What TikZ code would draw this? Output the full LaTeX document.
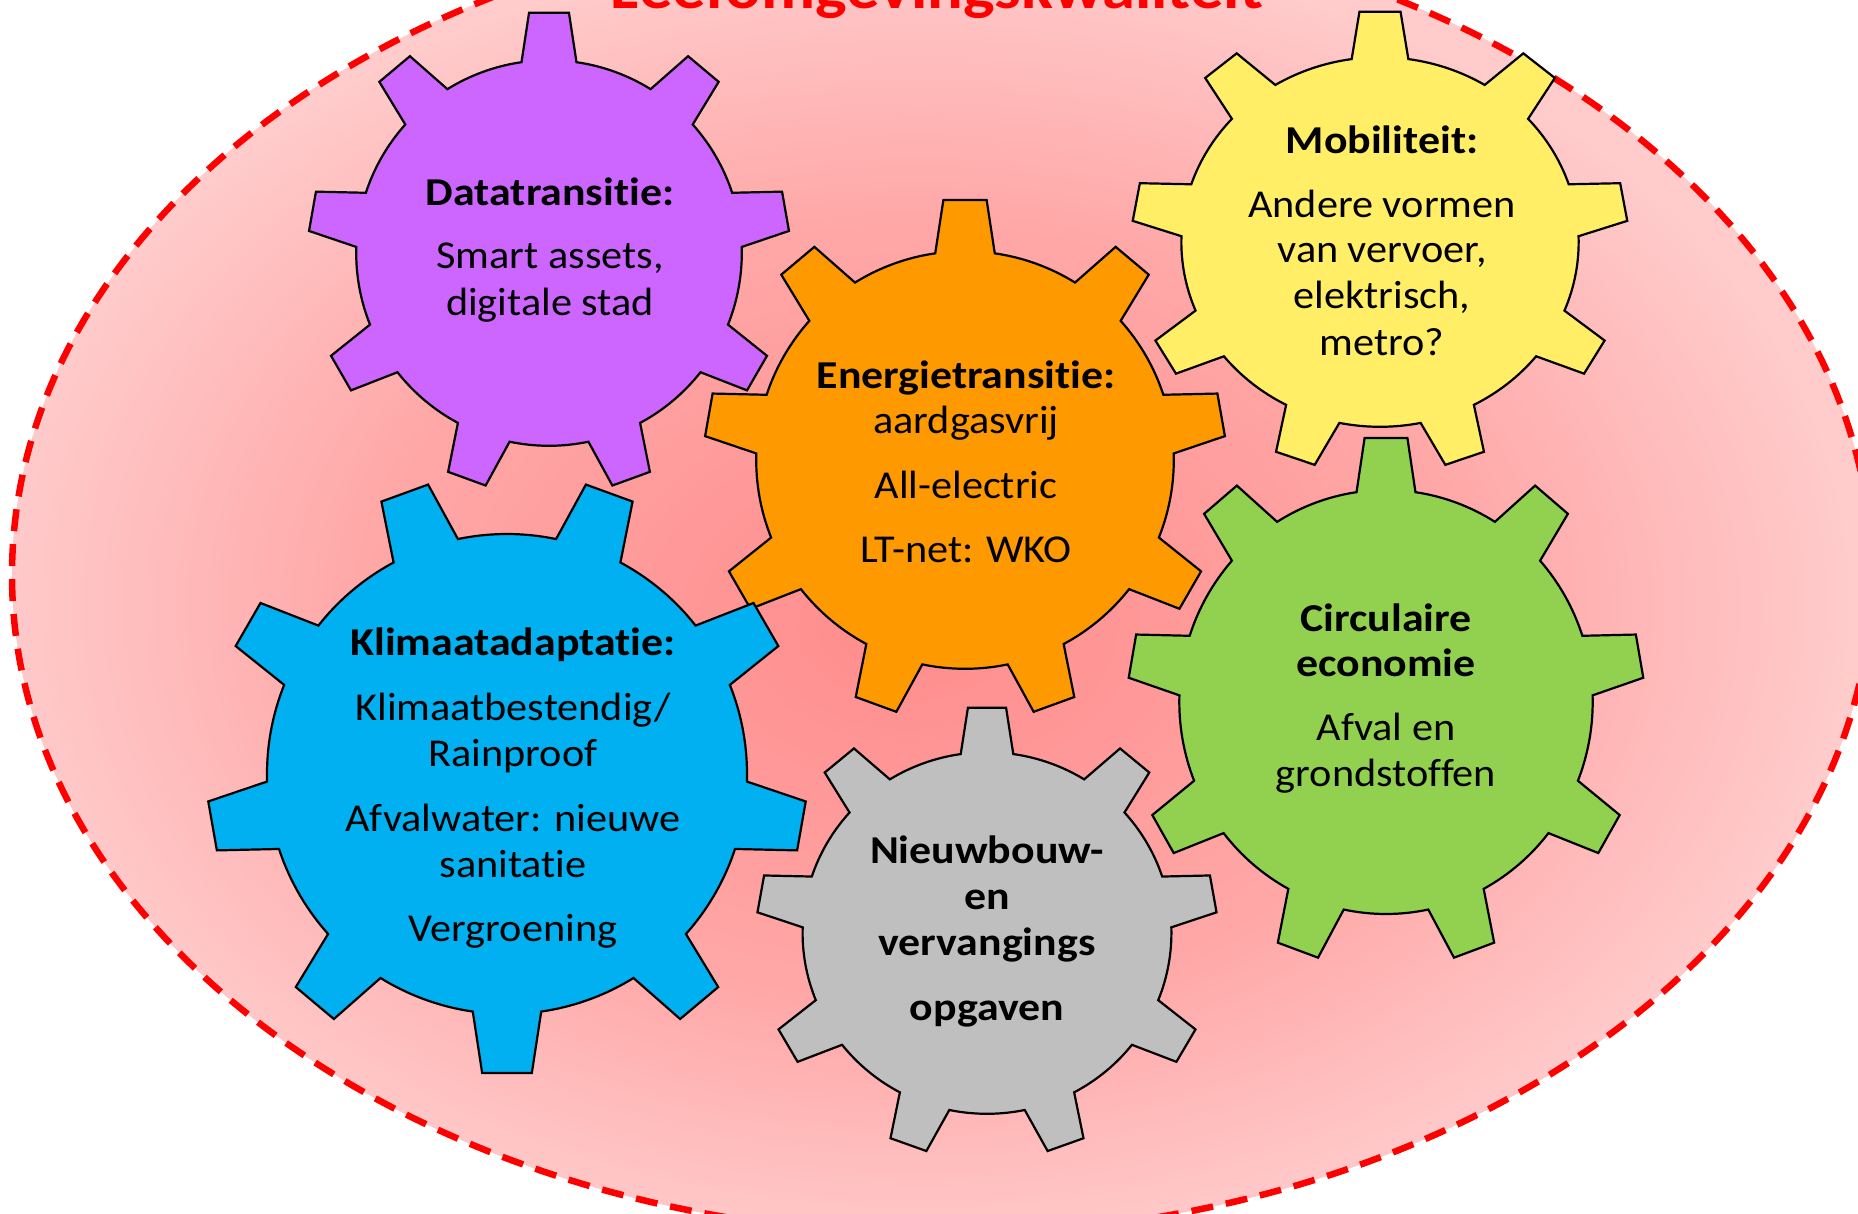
\documentclass[tikz,border=0pt]{standalone}
\usepackage{fontspec}
\setmainfont{Carlito}[Ligatures=NoCommon, UprightFeatures={FakeStretch=1.07}, BoldFeatures={FakeStretch=1.11}]
\definecolor{bgin}{RGB}{255,140,140}
\definecolor{bgmid}{RGB}{255,168,168}
\definecolor{bgout}{RGB}{255,203,203}
\definecolor{gpurple}{RGB}{204,102,255}
\definecolor{gorange}{RGB}{255,153,0}
\definecolor{gyellow}{RGB}{255,238,102}
\definecolor{gblue}{RGB}{0,176,240}
\definecolor{ggreen}{RGB}{146,208,80}
\definecolor{ggray}{RGB}{191,191,191}
\definecolor{titlered}{RGB}{255,0,0}
\pgfdeclareradialshading{bgshade}{\pgfpoint{-1bp}{-2bp}}{color(0bp)=(bgin); color(15bp)=(bgmid); color(25bp)=(bgout); color(50bp)=(bgout)}
\tikzset{
  gearline/.style={draw=black, line width=2.2pt, line join=miter},
  lbl/.style={anchor=base, inner sep=0pt, text=black, font=\fontsize{39.5}{46}\selectfont},
  lblb/.style={anchor=base, inner sep=0pt, text=black, font=\fontsize{39.5}{46}\selectfont\bfseries},
  ttl/.style={anchor=base, inner sep=0pt, text=titlered, font=\fontsize{60}{70}\selectfont\bfseries},
  outline/.style={draw=titlered, line width=6.5pt, dash pattern=on 22pt off 13pt}
}
% #1 fill, #2 cx, #3 cy, #4 outer radius, #5 xscale, #6 rotation
\newcommand{\drawcog}[6]{%
  \begin{scope}[shift={(#2,#3)},xscale=#5]
    \draw[gearline,fill=#1] ({#6+81.8}:{0.8*#4})
      \foreach \k in {0,...,8}{
        -- ({#6+90+40*\k-4.75}:#4) -- ({#6+90+40*\k+4.75}:#4)
        -- ({#6+90+40*\k+8.2}:{0.8*#4})
        arc[start angle={#6+90+40*\k+8.2}, end angle={#6+130+40*\k-8.2}, radius={0.8*#4}]
      } -- cycle;
  \end{scope}}
\begin{document}
\begin{tikzpicture}[x=1pt,y=1pt]
\useasboundingbox (0,0) rectangle (1858,-1213);
\clip (0,0) rectangle (1858,-1213);
% background ellipse
\shade[shading=bgshade] (942,-575) ellipse [x radius=930, y radius=660];
\draw[outline] (942,-575) ellipse [x radius=930, y radius=660];
\node[ttl] (title) at (937,-8) {Leefomgevingskwaliteit};
% gears
\drawcog{gpurple}{549}{-253}{241}{1}{0}
\drawcog{gorange}{965}{-460}{261}{1}{0}
\drawcog{gyellow}{1380}{-242}{231}{1.075}{0}
\drawcog{gblue}{507}{-774}{300}{1}{180}
\drawcog{ggreen}{1386}{-702}{265}{0.975}{0}
\drawcog{ggray}{987}{-933}{226}{1.02}{0}
% purple texts
\node[lblb] (p1) at (550,-205) {Datatransitie:};
\node[lbl] (p2) at (550,-268) {Smart assets,};
\node[lbl] (p3) at (550,-315) {digitale stad};
% orange texts
\node[lblb] (o1) at (966,-388) {Energietransitie:};
\node[lbl] (o2) at (966,-433) {aardgasvrij};
\node[lbl] (o3) at (966,-498) {All-electric};
\node[lbl] (o4) at (966,-562) {LT-net: WKO};
% yellow texts
\node[lblb] (y1) at (1382,-153) {Mobiliteit:};
\node[lbl] (y2) at (1382,-217) {Andere vormen};
\node[lbl] (y3) at (1382,-262) {van vervoer,};
\node[lbl] (y4) at (1382,-308) {elektrisch,};
\node[lbl] (y5) at (1382,-355) {metro?};
% blue texts
\node[lblb] (b1) at (513,-655) {Klimaatadaptatie:};
\node[lbl] (b2) at (513,-720) {Klimaatbestendig/};
\node[lbl] (b3) at (513,-766) {Rainproof};
\node[lbl] (b4) at (513,-831) {Afvalwater: nieuwe};
\node[lbl] (b5) at (513,-877) {sanitatie};
\node[lbl] (b6) at (513,-941) {Vergroening};
% green texts
\node[lblb] (g1) at (1386,-631) {Circulaire};
\node[lblb] (g2) at (1386,-676) {economie};
\node[lbl] (g3) at (1386,-740) {Afval en};
\node[lbl] (g4) at (1386,-786) {grondstoffen};
% gray texts
\node[lblb] (n1) at (987,-863) {Nieuwbouw-};
\node[lblb] (n2) at (987,-909) {en};
\node[lblb] (n3) at (987,-955) {vervangings};
\node[lblb] (n4) at (987,-1020) {opgaven};
\end{tikzpicture}
\end{document}
